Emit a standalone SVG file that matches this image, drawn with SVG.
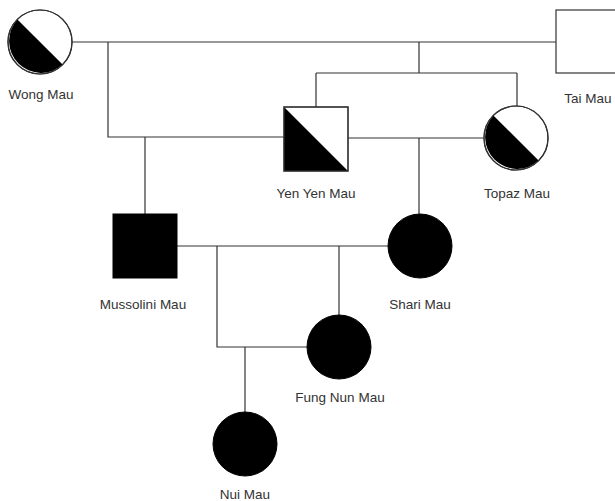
<svg xmlns="http://www.w3.org/2000/svg" width="615" height="501" viewBox="0 0 615 501">
<style>
.ln{fill:none;stroke:#333;stroke-width:1.2}
.sh{fill:#fff;stroke:#333;stroke-width:1.2}
.full{fill:#000;stroke:#000;stroke-width:1}
.half{fill:#000;stroke:none}
.lb{font-family:"Liberation Sans",Arial,sans-serif;font-size:13.5px;fill:#333;text-anchor:middle}
</style>
<rect width="615" height="501" fill="#fff"/>
<g id="connectors">
<path class="ln" d="M72,42 H556"/>
<path class="ln" d="M108,42 V137 H284"/>
<path class="ln" d="M145,137 V214"/>
<path class="ln" d="M419,42 V73 M316,73 H517 M316,73 V107 M517,73 V106"/>
<path class="ln" d="M348,138 H484"/>
<path class="ln" d="M419,138 V214"/>
<path class="ln" d="M177,246 H388"/>
<path class="ln" d="M217,246 V347 H307"/>
<path class="ln" d="M339,246 V315"/>
<path class="ln" d="M245,347 V412"/>
</g>
<g id="wong">
<circle class="sh" cx="40" cy="42" r="32"/>
<path class="half" d="M17.4,19.4 A32,32 0 0 0 62.6,64.6 Z"/>
<circle cx="40" cy="42" r="32" fill="none" stroke="#333" stroke-width="1.2"/>
<text class="lb" x="41" y="99">Wong Mau</text>
</g>
<g id="tai">
<rect class="sh" x="556" y="10" width="64" height="63"/>
<text class="lb" x="588" y="103">Tai Mau</text>
</g>
<g id="yenyen">
<rect class="sh" x="284" y="107" width="64" height="64"/>
<path class="half" d="M284,107 L348,171 H284 Z"/>
<rect x="284" y="107" width="64" height="64" fill="none" stroke="#333" stroke-width="1.2"/>
<text class="lb" x="316" y="198">Yen Yen Mau</text>
</g>
<g id="topaz">
<circle class="sh" cx="516" cy="138" r="32"/>
<path class="half" d="M493.4,115.4 A32,32 0 0 0 538.6,160.6 Z"/>
<circle cx="516" cy="138" r="32" fill="none" stroke="#333" stroke-width="1.2"/>
<text class="lb" x="517" y="198">Topaz Mau</text>
</g>
<g id="mussolini">
<rect class="full" x="113" y="214" width="64" height="64"/>
<text class="lb" x="143" y="309">Mussolini Mau</text>
</g>
<g id="shari">
<circle class="full" cx="420" cy="246" r="32"/>
<text class="lb" x="420" y="309">Shari Mau</text>
</g>
<g id="fungnun">
<circle class="full" cx="339" cy="347" r="32"/>
<text class="lb" x="340" y="402">Fung Nun Mau</text>
</g>
<g id="nui">
<circle class="full" cx="245" cy="444" r="32"/>
<text class="lb" x="245" y="499">Nui Mau</text>
</g>
</svg>
